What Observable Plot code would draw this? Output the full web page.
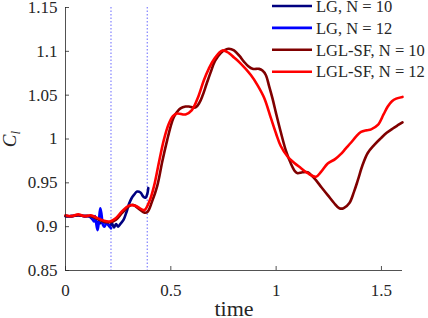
<!DOCTYPE html>
<html>
<head>
<meta charset="utf-8">
<script src="https://cdn.jsdelivr.net/npm/d3@7"></script>
<script src="https://cdn.jsdelivr.net/npm/@observablehq/plot@0.6"></script>
<style>
  html, body { margin: 0; padding: 0; background: #fff; }
  #chart svg, #chart svg text { font-family: "Liberation Serif", "Times New Roman", serif; }
</style>
</head>
<body>
<div id="chart"></div>
<script>
// ---- data ----
const seriesNames = ["LG, N = 10", "LG, N = 12", "LGL-SF, N = 10", "LGL-SF, N = 12"];
const seriesColors = ["#000080", "#0000ff", "#800000", "#ff0000"];

const lg10T = [0, 0.03, 0.06, 0.09, 0.11, 0.13, 0.145, 0.16, 0.18, 0.20, 0.21, 0.22, 0.23, 0.24, 0.25, 0.26, 0.276, 0.29, 0.30, 0.315, 0.324, 0.34, 0.356, 0.37, 0.38, 0.388, 0.393];
const lg10V = [0.912, 0.912, 0.913, 0.912, 0.912, 0.908, 0.906, 0.904, 0.905, 0.903, 0.900, 0.904, 0.899, 0.903, 0.900, 0.903, 0.908, 0.917, 0.925, 0.933, 0.936, 0.940, 0.939, 0.934, 0.933, 0.937, 0.944];

const lg12T = [0, 0.03, 0.06, 0.09, 0.11, 0.125, 0.135, 0.14, 0.145, 0.152, 0.158, 0.165, 0.171, 0.178, 0.185, 0.195, 0.205, 0.216];
const lg12V = [0.912, 0.912, 0.913, 0.912, 0.912, 0.910, 0.906, 0.912, 0.905, 0.896, 0.905, 0.921, 0.914, 0.902, 0.900, 0.904, 0.902, 0.898];

const sf10T = [0, 0.03, 0.06, 0.09, 0.12, 0.15, 0.18, 0.21, 0.24, 0.27, 0.30, 0.32, 0.35, 0.375, 0.39, 0.41, 0.435, 0.46, 0.483, 0.50, 0.514, 0.53, 0.546, 0.57, 0.586, 0.605, 0.618, 0.635, 0.65, 0.67, 0.689, 0.71, 0.737, 0.76, 0.776, 0.80, 0.825, 0.848, 0.868, 0.888, 0.905, 0.919, 0.935, 0.951, 0.967, 0.983, 1.0, 1.022, 1.046, 1.07, 1.09, 1.102, 1.125, 1.15, 1.17, 1.189, 1.215, 1.245, 1.275, 1.30, 1.32, 1.348, 1.37, 1.388, 1.41, 1.435, 1.465, 1.498, 1.525, 1.554, 1.58, 1.60];
const sf10V = [0.912, 0.912, 0.913, 0.912, 0.912, 0.909, 0.906, 0.905, 0.908, 0.916, 0.923, 0.925, 0.920, 0.916, 0.917, 0.928, 0.946, 0.975, 0.999, 1.015, 1.025, 1.031, 1.035, 1.037, 1.037, 1.036, 1.036, 1.041, 1.049, 1.063, 1.076, 1.089, 1.098, 1.102, 1.103, 1.101, 1.095, 1.088, 1.083, 1.080, 1.080, 1.080, 1.078, 1.073, 1.060, 1.046, 1.029, 1.008, 0.987, 0.972, 0.963, 0.961, 0.962, 0.962, 0.958, 0.953, 0.945, 0.936, 0.927, 0.921, 0.921, 0.927, 0.940, 0.953, 0.970, 0.984, 0.993, 1.001, 1.007, 1.012, 1.016, 1.019];

const sf12T = [0, 0.03, 0.06, 0.09, 0.12, 0.15, 0.18, 0.21, 0.24, 0.27, 0.30, 0.33, 0.36, 0.375, 0.40, 0.42, 0.445, 0.467, 0.49, 0.51, 0.53, 0.57, 0.60, 0.63, 0.657, 0.68, 0.705, 0.745, 0.776, 0.80, 0.832, 0.88, 0.91, 0.943, 0.975, 1.0, 1.022, 1.054, 1.085, 1.117, 1.15, 1.189, 1.215, 1.245, 1.28, 1.308, 1.33, 1.356, 1.38, 1.403, 1.43, 1.451, 1.483, 1.51, 1.53, 1.55, 1.57, 1.60];
const sf12V = [0.913, 0.912, 0.914, 0.912, 0.913, 0.910, 0.907, 0.906, 0.910, 0.918, 0.924, 0.924, 0.920, 0.919, 0.930, 0.946, 0.975, 0.999, 1.017, 1.026, 1.029, 1.028, 1.033, 1.048, 1.067, 1.080, 1.091, 1.101, 1.098, 1.093, 1.086, 1.073, 1.062, 1.047, 1.024, 1.006, 0.992, 0.980, 0.973, 0.967, 0.961, 0.957, 0.963, 0.972, 0.977, 0.983, 0.989, 0.996, 1.003, 1.008, 1.010, 1.011, 1.016, 1.028, 1.037, 1.043, 1.046, 1.048];

const markerTimes = [0.216, 0.388];
const xTicks = [0, 0.5, 1, 1.5];
const yTicks = [0.85, 0.9, 0.95, 1, 1.05, 1.1, 1.15];
const xLabel = "time";
const yLabelMain = "C";
const yLabelSub = "l";

// ---- build table ----
const seriesT = [lg10T, lg12T, sf10T, sf12T];
const seriesV = [lg10V, lg12V, sf10V, sf12V];
const rows = [];
seriesNames.forEach((name, i) => {
  seriesT[i].forEach((t, j) => rows.push({series: name, t, v: seriesV[i][j]}));
});

const axisColor = "#262626";
const font = "Liberation Serif";

const plot = Plot.plot({
  width: 428,
  height: 318,
  marginLeft: 65,
  marginRight: 26,
  marginTop: 7,
  marginBottom: 48,
  style: {fontFamily: font, fontSize: "17px", color: axisColor, background: "#fff", overflow: "visible"},
  x: {domain: [0, 1.6]},
  y: {domain: [0.85, 1.15]},
  color: {domain: seriesNames, range: seriesColors},
  marks: [
    Plot.ruleX(markerTimes, {stroke: "#0000ff", strokeOpacity: 0.6, strokeWidth: 1, strokeDasharray: "1.5,2"}),
    Plot.line(rows, {x: "t", y: "v", z: "series", stroke: "series", strokeWidth: 2.6, curve: "catmull-rom"}),
    Plot.ruleY([0.85], {stroke: axisColor, strokeWidth: 0.8}),
    Plot.ruleX([0], {stroke: axisColor, strokeWidth: 0.8}),
    Plot.axisX({ticks: xTicks, tickFormat: d => String(d), tickSize: -4, tickPadding: 17, label: null, stroke: axisColor, strokeWidth: 0.8, fontSize: 17}),
    Plot.axisY({ticks: yTicks, tickFormat: d => String(d), tickSize: -4, tickPadding: 12, label: null, stroke: axisColor, strokeWidth: 0.8, fontSize: 17}),
    Plot.text([xLabel], {text: d => d, frameAnchor: "bottom", lineAnchor: "bottom", dy: 45, fontSize: 22, fill: axisColor})
  ]
});

document.getElementById("chart").appendChild(plot);

const svg = d3.select(plot);
svg.attr("font-family", font);

// y label with subscript
const yl = svg.append("text")
  .attr("transform", "translate(16,139) rotate(-90)")
  .attr("text-anchor", "middle")
  .attr("font-family", font)
  .attr("font-style", "italic")
  .attr("font-size", 19)
  .attr("fill", axisColor);
yl.append("tspan").text(yLabelMain);
yl.append("tspan").attr("font-size", 13).attr("dy", 4).text(yLabelSub);

// legend
const lg = svg.append("g").attr("font-family", font).attr("font-size", 16.5)
  .attr("fill", axisColor).attr("text-anchor", "start");
seriesNames.forEach((name, i) => {
  const y = 6 + i * 21.9;
  lg.append("line").attr("x1", 272).attr("x2", 312).attr("y1", y).attr("y2", y)
    .attr("stroke", seriesColors[i]).attr("stroke-width", 2.6);
  lg.append("text").attr("x", 316).attr("y", y).attr("dy", "0.35em").text(name);
});
</script>
</body>
</html>
